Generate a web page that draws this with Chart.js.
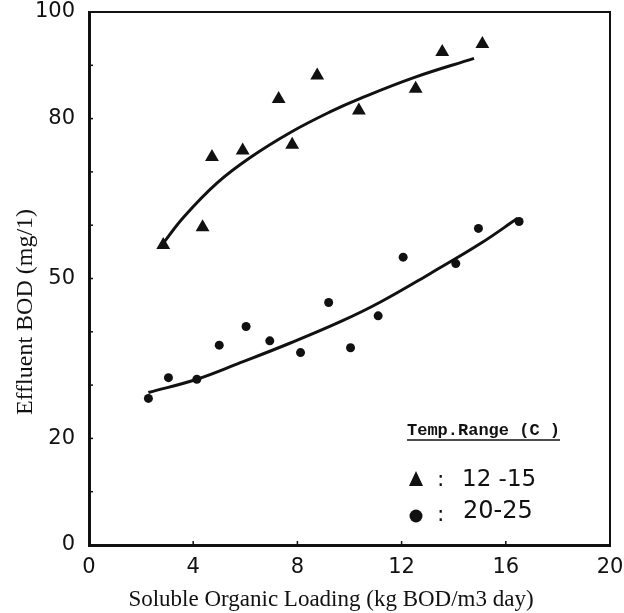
<!DOCTYPE html>
<html>
<head>
<meta charset="utf-8">
<script src="https://cdn.jsdelivr.net/npm/chart.js@4/dist/chart.umd.min.js"></script>
<style>
  html, body { margin: 0; padding: 0; background: #fff; }
  #wrap { width: 624px; height: 613px; }
</style>
</head>
<body>
<div id="wrap"><canvas id="bodChart" width="624" height="613"></canvas></div>
<script>
// data
const triLoad = [2.85, 4.36, 4.72, 5.9, 7.28, 7.8, 8.76, 10.36, 12.54, 13.56, 15.1];
const triBod = [56.3, 59.6, 72.8, 74.0, 83.7, 75.1, 88.1, 81.5, 85.6, 92.5, 94.0];

const dotLoad = [2.28, 3.05, 4.14, 5.0, 6.03, 6.94, 8.12, 9.2, 10.04, 11.1, 12.06, 14.08, 14.95, 16.51];
const dotBod = [27.5, 31.4, 31.1, 37.5, 41.0, 38.3, 36.1, 45.5, 37.0, 43.0, 54.0, 52.8, 59.4, 60.7];

// hand drawn fitted curves
const fitTriLoad = [2.8, 3.63, 4.91, 6.19, 7.73, 9.27, 10.42, 12.47, 14.78];
const fitTriBod = [56.3, 61.5, 67.9, 72.7, 77.4, 81.3, 83.8, 87.7, 91.3];
const fitDotLoad = [2.28, 4.14, 5.81, 7.73, 9.65, 11.19, 13.12, 15.04, 16.45];
const fitDotBod = [28.6, 31.1, 34.2, 37.9, 41.9, 45.6, 51.0, 56.6, 61.3];

const yTickLabels = [0, 20, 50, 80, 100];
const xTitle = 'Soluble Organic Loading (kg BOD/m3 day)';
const yTitle = 'Effluent BOD (mg/1)';
const legendTitle = 'Temp.Range (C )';
const legendLabels = ['12 -15', '20-25'];

const ink = '#111';
const toPoints = (xs, ys) => xs.map((x, i) => ({ x, y: ys[i] }));

// frame, inward ticks, titles and the hand lettered key
const decorPlugin = {
    id: 'decor',
    afterDraw(chart) {
        const { ctx, chartArea: a, scales } = chart;
        ctx.save();
        ctx.strokeStyle = ink;
        ctx.fillStyle = ink;

        ctx.lineWidth = 2;
        ctx.beginPath();
        ctx.moveTo(a.left, a.top);
        ctx.lineTo(a.right, a.top);
        ctx.lineTo(a.right, a.bottom);
        ctx.stroke();

        ctx.lineWidth = 1.5;
        scales.y.ticks.forEach(t => {
            const py = scales.y.getPixelForValue(t.value);
            ctx.beginPath();
            ctx.moveTo(a.left, py);
            ctx.lineTo(a.left + 4, py);
            ctx.stroke();
        });
        scales.x.ticks.forEach(t => {
            const px = scales.x.getPixelForValue(t.value);
            ctx.beginPath();
            ctx.moveTo(px, a.bottom);
            ctx.lineTo(px, a.bottom - 4);
            ctx.stroke();
        });

        // axis titles
        ctx.textAlign = 'center';
        ctx.textBaseline = 'middle';
        ctx.font = '23px "Liberation Serif", serif';
        ctx.fillText(xTitle, 331, 600);
        ctx.save();
        ctx.translate(26, 312);
        ctx.rotate(-Math.PI / 2);
        ctx.font = '24px "Liberation Serif", serif';
        ctx.fillText(yTitle, 0, 0);
        ctx.restore();

        // key
        ctx.textAlign = 'left';
        ctx.textBaseline = 'alphabetic';
        ctx.font = 'bold 17px "Liberation Mono", monospace';
        ctx.fillText(legendTitle, 407, 435);
        const w = ctx.measureText(legendTitle).width;
        ctx.lineWidth = 1.5;
        ctx.beginPath();
        ctx.moveTo(407, 440);
        ctx.lineTo(407 + w, 440);
        ctx.stroke();

        ctx.beginPath();
        ctx.moveTo(416, 471);
        ctx.lineTo(423, 486);
        ctx.lineTo(409, 486);
        ctx.closePath();
        ctx.fill();
        ctx.beginPath();
        ctx.arc(416, 516, 6.5, 0, Math.PI * 2);
        ctx.fill();

        ctx.font = '22px "DejaVu Sans", sans-serif';
        ctx.textBaseline = 'middle';
        ctx.fillText(':', 437, 480);
        ctx.fillText(':', 437, 515);
        ctx.font = '23px "DejaVu Sans", sans-serif';
        ctx.fillText(legendLabels[0], 462, 480);
        ctx.font = '24px "DejaVu Sans", sans-serif';
        ctx.fillText(legendLabels[1], 463, 512);
        ctx.restore();
    }
};

const ctx = document.getElementById('bodChart').getContext('2d');
new Chart(ctx, {
    type: 'scatter',
    data: {
        datasets: [
            {
                label: legendLabels[0],
                data: toPoints(triLoad, triBod),
                pointStyle: 'triangle',
                pointRadius: 8,
                backgroundColor: ink,
                borderColor: ink,
                borderWidth: 0
            },
            {
                label: legendLabels[1],
                data: toPoints(dotLoad, dotBod),
                pointStyle: 'circle',
                pointRadius: 4.5,
                backgroundColor: ink,
                borderColor: ink,
                borderWidth: 0
            },
            {
                label: 'fit 12-15',
                data: toPoints(fitTriLoad, fitTriBod),
                showLine: true,
                pointRadius: 0,
                borderColor: ink,
                borderWidth: 3,
                tension: 0.4
            },
            {
                label: 'fit 20-25',
                data: toPoints(fitDotLoad, fitDotBod),
                showLine: true,
                pointRadius: 0,
                borderColor: ink,
                borderWidth: 3,
                tension: 0.4
            }
        ]
    },
    options: {
        responsive: false,
        animation: false,
        layout: { padding: 0 },
        plugins: {
            legend: { display: false },
            tooltip: { enabled: false }
        },
        scales: {
            x: {
                type: 'linear',
                min: 0,
                max: 20,
                afterFit: s => {
                    s.height = 68;
                    s.paddingLeft = 0;
                    s.paddingRight = 14;
                },
                grid: { display: false, drawTicks: false },
                border: { display: true, color: ink, width: 3 },
                ticks: {
                    stepSize: 4,
                    padding: 10,
                    color: ink,
                    font: { family: '"DejaVu Sans", sans-serif', size: 21 }
                }
            },
            y: {
                min: 0,
                max: 100,
                afterFit: s => {
                    s.width = 89;
                    s.paddingTop = 12;
                    s.paddingBottom = 0;
                },
                grid: { display: false, drawTicks: false },
                border: { display: true, color: ink, width: 3 },
                ticks: {
                    stepSize: 10,
                    padding: 14,
                    color: ink,
                    font: { family: '"DejaVu Sans", sans-serif', size: 21 },
                    callback: v => yTickLabels.includes(v) ? v : ''
                }
            }
        }
    },
    plugins: [decorPlugin]
});
</script>
</body>
</html>
